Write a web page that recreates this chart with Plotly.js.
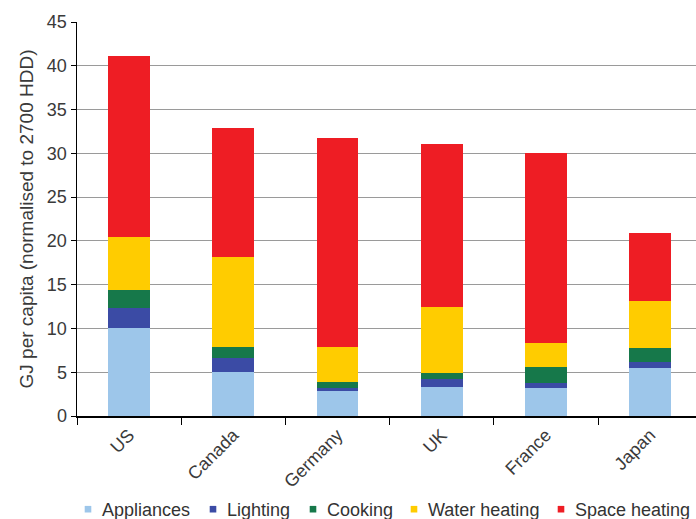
<!DOCTYPE html>
<html>
<head>
<meta charset="utf-8">
<script src="https://cdn.plot.ly/plotly-3.0.1.min.js"></script>
<style>html,body{margin:0;padding:0;background:#fff;}#chart{width:696px;height:519px;}</style>
</head>
<body>
<div id="chart"></div>
<script>
var countries = ["US", "Canada", "Germany", "UK", "France", "Japan"];
var appliances = [10.1, 5.0, 2.8, 3.3, 3.2, 5.5];
var lighting = [2.2, 1.6, 0.4, 0.9, 0.6, 0.7];
var cooking = [2.1, 1.3, 0.7, 0.7, 1.8, 1.6];
var waterHeating = [6.0, 10.3, 4.0, 7.5, 2.7, 5.3];
var spaceHeating = [20.7, 14.7, 23.9, 18.7, 21.7, 7.8];
var seriesNames = ["Appliances", "Lighting", "Cooking", "Water heating", "Space heating"];
var seriesColors = ["#9DC6EA", "#3B4BA5", "#16784A", "#FFCC00", "#EE1D24"];

var font = "'Liberation Sans', Arial, sans-serif";
var legendIds = ["legend", "legend2", "legend3", "legend4", "legend5"];
var legendLeftPx = [62, 187, 287, 388, 535];

var seriesData = [appliances, lighting, cooking, waterHeating, spaceHeating];
var traces = seriesData.map(function (vals, i) {
  return {
    type: "bar",
    name: seriesNames[i],
    x: countries,
    y: vals,
    width: 0.4,
    legend: legendIds[i],
    marker: { color: seriesColors[i], line: { width: 0 } },
    hoverinfo: "skip"
  };
});

var layout = {
  width: 696,
  height: 519,
  margin: { l: 77, r: 0, t: 22, b: 103 },
  barmode: "stack",
  paper_bgcolor: "#ffffff",
  plot_bgcolor: "#ffffff",
  font: { family: font, size: 18, color: "#333333" },
  showlegend: true,
  xaxis: {
    type: "category",
    range: [-0.5, 5.44],
    showline: true,
    linecolor: "#000000",
    linewidth: 1.5,
    ticks: "outside",
    tickson: "boundaries",
    ticklen: 7,
    tickcolor: "#000000",
    tickangle: -45,
    tickfont: { family: font, size: 18, color: "#3a3a3a" },
    showgrid: false,
    zeroline: false
  },
  yaxis: {
    range: [0, 45],
    dtick: 5,
    showline: true,
    linecolor: "#000000",
    linewidth: 1.5,
    ticks: "outside",
    ticklen: 5,
    tickcolor: "#000000",
    tickfont: { family: font, size: 18, color: "#3a3a3a" },
    showgrid: true,
    gridcolor: "#9a9a9a",
    gridwidth: 1,
    zeroline: false,
    title: { text: "GJ per capita (normalised to 2700 HDD)", font: { family: font, size: 19, color: "#3a3a3a" }, standoff: 8 }
  }
};

legendIds.forEach(function (id, i) {
  layout[id] = {
    orientation: "h",
    xref: "container",
    x: legendLeftPx[i] / 696,
    xanchor: "left",
    yref: "container",
    y: 0,
    yanchor: "bottom",
    itemwidth: 30,
    bgcolor: "rgba(0,0,0,0)",
    font: { family: font, size: 18, color: "#333333" }
  };
});

Plotly.newPlot("chart", traces, layout, { displayModeBar: false, staticPlot: true }).then(function () {
  var pts = document.querySelectorAll(".legendpoints path");
  pts.forEach(function (p) {
    var t = p.getAttribute("transform") || "";
    p.setAttribute("transform", t + " translate(6,0) scale(0.55)");
  });
  legendIds.forEach(function (id) {
    var g = document.querySelector("g." + id);
    if (g) {
      var t = g.getAttribute("transform") || "";
      g.setAttribute("transform", t + " translate(0,9)");
    }
  });
});
</script>
</body>
</html>
